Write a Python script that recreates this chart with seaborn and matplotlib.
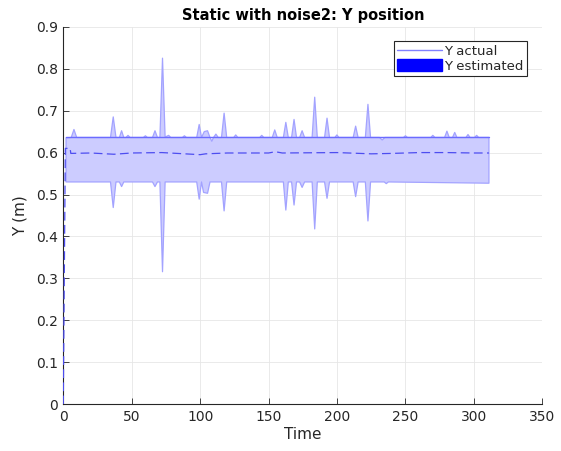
import matplotlib
matplotlib.use('Agg')
import matplotlib.pyplot as plt
import seaborn as sns
import numpy as np
from matplotlib.lines import Line2D
from matplotlib.patches import Patch

# upper edge of the estimate band
up_t = [2, 5.8, 7.8, 9.8, 34.5, 36.5, 38.5, 41, 42.6, 44.2, 45.8, 47.3, 48.8,
        58.5, 60, 61.5, 65.2, 67, 68.8, 70.6, 72.5, 74.4, 77, 78.5, 87, 88.5,
        90, 97.5, 99.3, 101, 103, 105.4, 107.2, 108.5, 109.8, 111.5, 113.2,
        115.6, 117.5, 119.4, 124.5, 126, 127.5, 143.5, 145, 146.5, 152.7,
        154.5, 156.3, 160.8, 162.6, 164.4, 166.8, 168.6, 170.4, 172.7, 174.5,
        176.3, 181.8, 183.7, 185.6, 190.9, 192.7, 194.5, 198.4, 199.9, 201.4,
        211.8, 213.6, 215.4, 220.7, 222.6, 224.5, 231, 233, 235, 248.5, 250,
        251.5, 268.5, 270, 271.5, 278.6, 280.3, 282, 284.4, 286, 287.6, 294.2,
        295.7, 297.2, 300.5, 302, 303.5, 311]
up_y = [0.635, 0.636, 0.655, 0.636, 0.636, 0.685, 0.636, 0.636, 0.652, 0.636,
        0.636, 0.641, 0.636,
        0.636, 0.640, 0.636, 0.636, 0.652, 0.636, 0.636, 0.825, 0.637, 0.641,
        0.636, 0.636, 0.640,
        0.636, 0.636, 0.667, 0.636, 0.650, 0.652, 0.636, 0.627, 0.636, 0.644,
        0.636,
        0.636, 0.694, 0.636, 0.636, 0.642, 0.636, 0.636, 0.641, 0.636, 0.636,
        0.654, 0.636, 0.636, 0.672, 0.636, 0.636, 0.679, 0.636, 0.636, 0.652,
        0.636, 0.636, 0.732, 0.636, 0.636, 0.682, 0.636, 0.636, 0.642, 0.636,
        0.636, 0.663, 0.636, 0.636, 0.715, 0.636, 0.636, 0.630, 0.636, 0.636,
        0.640,
        0.636, 0.636, 0.641, 0.636, 0.636, 0.651, 0.636, 0.636, 0.648, 0.636,
        0.636,
        0.643, 0.636, 0.636, 0.641, 0.636, 0.636]

# lower edge of the estimate band
lo_t = [2, 34.5, 36.5, 38.5, 41, 42.6, 44.2, 65.2, 67, 68.8, 70.6, 72.5, 74.4,
        97.5, 99.3, 101, 102.5, 105.4, 107.2, 115.6, 117.5, 119.4, 160.8, 162.6,
        164.4, 166.8, 168.6, 170.4, 172.7, 174.5, 176.3, 181.8, 183.7, 185.6,
        190.9, 192.7, 194.5, 211.8, 213.6, 215.4, 220.7, 222.6, 224.5, 234.5,
        236, 237.5, 311]
lo_y = [0.530, 0.530, 0.469, 0.530, 0.530, 0.519, 0.530, 0.530, 0.519, 0.530,
        0.530, 0.316, 0.530, 0.530, 0.489, 0.530, 0.505, 0.503, 0.530, 0.530,
        0.461, 0.530, 0.530, 0.463, 0.530, 0.530, 0.475, 0.530, 0.530, 0.517,
        0.530, 0.530, 0.418, 0.530, 0.530, 0.491, 0.530, 0.530, 0.495, 0.530,
        0.530, 0.437, 0.530, 0.530, 0.526, 0.530, 0.527]

# actual position (static)
act_t = [2, 311]
act_y = [0.636, 0.636]

# estimated position (dashed)
est_t = [0, 1.5, 5, 5.5, 20, 37, 50, 72, 100, 104, 120, 150, 155, 160, 200,
         225, 240, 260, 280, 300, 311]
est_y = [0, 0.610, 0.610, 0.598, 0.599, 0.596, 0.599, 0.600, 0.595, 0.597,
         0.599, 0.599, 0.602, 0.599, 0.600, 0.597, 0.598, 0.600, 0.600, 0.599,
         0.599]

sns.set_theme(style='whitegrid')
plt.rcParams['font.family'] = ['DejaVu Sans']

fig = plt.figure(figsize=(5.61, 4.51), dpi=100)
ax = fig.add_axes([0.1128, 0.1035, 0.8539, 0.8373])

band_x = np.r_[up_t, lo_t[::-1]]
band_y = np.r_[up_y, lo_y[::-1]]
ax.fill(band_x, band_y, facecolor='#ccccff', edgecolor='#a3a3ff', lw=0.9,
        joinstyle='round', zorder=2)

sns.lineplot(x=act_t, y=act_y, ax=ax, color='#6b6bff', lw=1.0, sort=False,
             estimator=None, zorder=3)
sns.lineplot(x=est_t, y=est_y, ax=ax, color='#4d4df0', lw=0.9, sort=False,
             estimator=None, zorder=4, linestyle=(0, (7, 3.5)))

ax.set_xlim(0, 350)
ax.set_ylim(0, 0.9)
ax.set_xticks(np.arange(0, 351, 50))
ax.set_yticks(np.round(np.arange(0, 0.91, 0.1), 1))
ax.set_yticklabels(['0', '0.1', '0.2', '0.3', '0.4', '0.5', '0.6', '0.7', '0.8', '0.9'])

ax.grid(True, color='#e6e6e6', lw=0.6)
ax.set_facecolor('white')
for s in ['top', 'right']:
    ax.spines[s].set_visible(False)
for s in ['left', 'bottom']:
    ax.spines[s].set_color('#262626')
    ax.spines[s].set_linewidth(0.8)
ax.tick_params(direction='in', length=4, width=0.6, colors='#262626',
               labelsize=10, pad=4, left=True, bottom=True)

ax.set_xlabel('Time', fontsize=11, color='#262626', labelpad=2)
ax.set_ylabel('Y (m)', fontsize=11, color='#262626', labelpad=6)
ax.set_title('Static with noise2: Y position', fontsize=10.5, fontweight='bold',
             color='black', pad=5)

handles = [Line2D([0], [0], color='#8080ff', lw=1.0),
           Patch(facecolor='#0000ff', edgecolor='#0000ff')]
leg = ax.legend(handles, ['Y actual', 'Y estimated'], loc='upper right',
                bbox_to_anchor=(0.968, 0.962), borderaxespad=0, fontsize=9.5,
                frameon=True, fancybox=False, framealpha=1, handlelength=3.4,
                handleheight=1.0, handletextpad=0.2, borderpad=0.25,
                labelspacing=0.1)
leg.get_frame().set_edgecolor('#262626')
leg.get_frame().set_linewidth(0.8)

fig.savefig('out.png', dpi=100)
